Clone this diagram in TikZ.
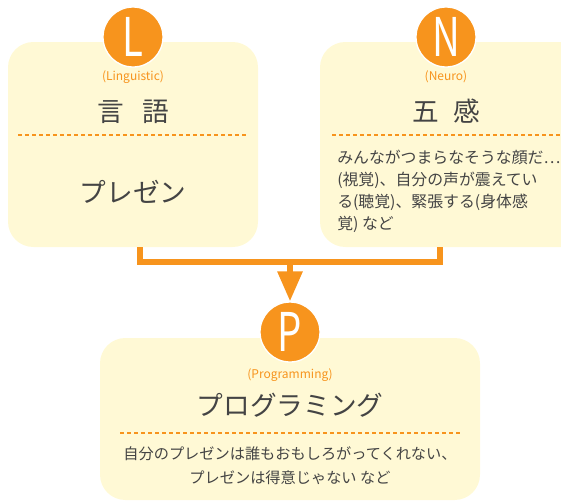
\documentclass[tikz,border=0pt]{standalone}
\usepackage{fontspec}
\setmainfont{Noto Sans CJK JP}
\usetikzlibrary{arrows.meta}
\definecolor{nlporange}{HTML}{F7941D}
\definecolor{nlpcream}{HTML}{FFF9D5}
\definecolor{nlptext}{HTML}{444444}
\begin{document}
\begin{tikzpicture}[x=0.75pt,y=-0.75pt,
	box/.style={rectangle,rounded corners=19pt,fill=nlpcream,inner sep=0pt},
	badge/.style={circle,fill=nlporange,draw=white,line width=1pt,minimum size=45pt,
		inner sep=0pt,text=white,font=\fontsize{40}{40}\selectfont},
	tag/.style={text=nlporange,inner sep=0pt,font=\fontsize{9}{9}\selectfont},
	title/.style={text=nlptext,inner sep=0pt,font=\fontsize{20}{20}\selectfont},
	body/.style={text=nlptext,inner sep=0pt},
	sep/.style={nlporange,line width=1.1pt,dash pattern=on 3pt off 2.25pt},
	link/.style={nlporange,line width=4.5pt}]
\clip (0,0) rectangle (561,501);
\useasboundingbox (0,0) rectangle (561,501);
% the three boxes
\node[box,minimum width=187.5pt,minimum height=153.75pt] (boxL) at (133,144.5) {};
\node[box,minimum width=210pt,minimum height=153.75pt] (boxN) at (460,144.5) {};
\node[box,minimum width=285pt,minimum height=121.5pt] (boxP) at (290,419) {};
% connectors
\coordinate (join) at (290,262);
\draw[link] ([shift={(7,0)}]boxL.south) |- (join) -| ([shift={(-20,0)}]boxN.south);
% badges
\node[badge] (cL) at (133,37) {\scalebox{0.72}[1]{L}};
\node[badge] (cN) at (446,37) {\scalebox{0.72}[1]{N}};
\node[badge] (cP) at (290,332) {\scalebox{0.72}[1]{P}};
\draw[link,-{Triangle[length=22.5pt,width=18pt]}] (join) -- (cP.north);
% L
\node[tag] (tL) at (133,77) {(Linguistic)};
\node[title] (hL) at (133,112) {言\hspace{0.7em}語};
\draw[sep] (18,135) -- (248,135);
\node[title] (xL) at (133,192) {プレゼン};
% N
\node[tag] (tN) at (446,77) {(Neuro)};
\node[title] (hN) at (446,111) {五\hspace{0.55em}感};
\draw[sep] (332,135) -- (561,135);
\node[body,anchor=north west,align=left,font=\fontsize{11.9}{16.5}\selectfont] (xN) at (337,150)
	{みんながつまらなそうな顔だ…\\(視覚)、自分の声が震えてい\\る(聴覚)、緊張する(身体感\\覚) など};
% P
\node[tag] (tP) at (290,375) {(Programming)};
\node[title] (hP) at (290,405) {プログラミング};
\draw[sep] (120,433) -- (460,433);
\node[body,anchor=north,align=center,font=\fontsize{11.4}{18}\selectfont] (xP) at (290,446)
	{自分のプレゼンは誰もおもしろがってくれない、\\プレゼンは得意じゃない など};
\end{tikzpicture}
\end{document}
